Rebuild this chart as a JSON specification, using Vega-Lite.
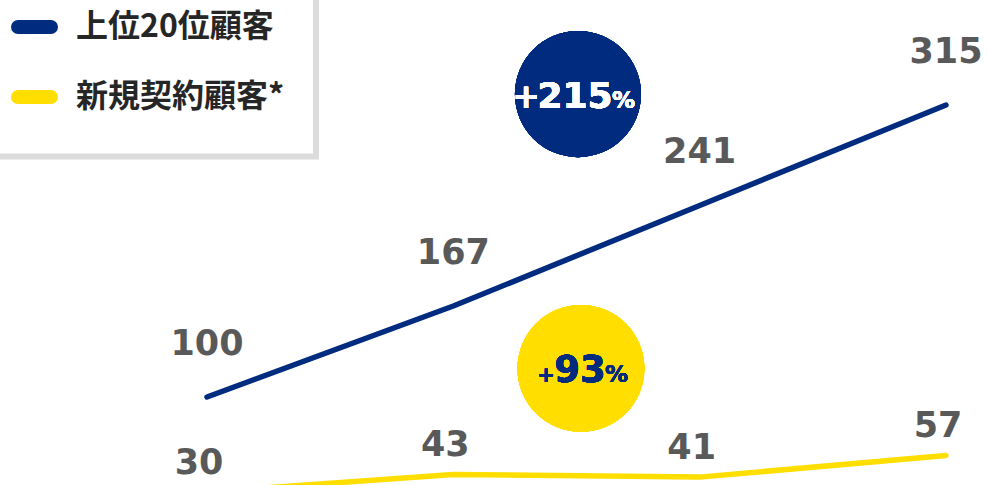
{
  "$schema": "https://vega.github.io/schema/vega-lite/v6.json",
  "width": 987,
  "height": 485,
  "padding": 0,
  "autosize": {"type": "fit", "contains": "padding"},
  "background": "white",
  "config": {"view": {"stroke": null}},
  "data": {
    "values": [
      {"idx": 1, "series": "上位20位顧客", "value": 100},
      {"idx": 2, "series": "上位20位顧客", "value": 167},
      {"idx": 3, "series": "上位20位顧客", "value": 241},
      {"idx": 4, "series": "上位20位顧客", "value": 315},
      {"idx": 1, "series": "新規契約顧客*", "value": 30},
      {"idx": 2, "series": "新規契約顧客*", "value": 43},
      {"idx": 3, "series": "新規契約顧客*", "value": 41},
      {"idx": 4, "series": "新規契約顧客*", "value": 57}
    ]
  },
  "layer": [
    {
      "mark": {"type": "point", "filled": true, "opacity": 1, "color": "#002b7f", "size": 15900, "strokeWidth": 0},
      "encoding": {
        "x": {"datum": 2.506, "type": "quantitative", "scale": {"domain": [0.1597, 4.1665], "nice": false, "zero": false}, "axis": null},
        "y": {"datum": 323, "type": "quantitative", "scale": {"domain": [35.2, 392.3], "nice": false, "zero": false}, "axis": null}
      }
    },
    {
      "mark": {"type": "point", "filled": true, "opacity": 1, "color": "#ffde00", "size": 16100, "strokeWidth": 0},
      "encoding": {
        "x": {"datum": 2.518, "type": "quantitative"},
        "y": {"datum": 121, "type": "quantitative"}
      }
    },
    {
      "mark": {"type": "text", "font": "DejaVu Sans", "fontWeight": "bold", "fontSize": 33, "color": "white", "align": "right", "baseline": "alphabetic", "dx": -38, "dy": 14},
      "encoding": {"x": {"datum": 2.506, "type": "quantitative"}, "y": {"datum": 323, "type": "quantitative"}, "text": {"value": "+"}}
    },
    {
      "mark": {"type": "text", "font": "DejaVu Sans", "fontWeight": "bold", "fontSize": 36, "color": "white", "align": "center", "baseline": "alphabetic", "dx": -3, "dy": 14},
      "encoding": {"x": {"datum": 2.506, "type": "quantitative"}, "y": {"datum": 323, "type": "quantitative"}, "text": {"value": "215"}}
    },
    {
      "mark": {"type": "text", "font": "DejaVu Sans", "fontWeight": "bold", "fontSize": 23, "color": "white", "align": "left", "baseline": "alphabetic", "dx": 34, "dy": 14},
      "encoding": {"x": {"datum": 2.506, "type": "quantitative"}, "y": {"datum": 323, "type": "quantitative"}, "text": {"value": "%"}}
    },
    {
      "mark": {"type": "text", "font": "DejaVu Sans", "fontWeight": "bold", "fontSize": 21, "color": "#002b7f", "align": "right", "baseline": "alphabetic", "dx": -26, "dy": 14},
      "encoding": {"x": {"datum": 2.518, "type": "quantitative"}, "y": {"datum": 121, "type": "quantitative"}, "text": {"value": "+"}}
    },
    {
      "mark": {"type": "text", "font": "DejaVu Sans", "fontWeight": "bold", "fontSize": 37, "color": "#002b7f", "align": "center", "baseline": "alphabetic", "dx": -1, "dy": 14},
      "encoding": {"x": {"datum": 2.518, "type": "quantitative"}, "y": {"datum": 121, "type": "quantitative"}, "text": {"value": "93"}}
    },
    {
      "mark": {"type": "text", "font": "DejaVu Sans", "fontWeight": "bold", "fontSize": 23, "color": "#002b7f", "align": "left", "baseline": "alphabetic", "dx": 24, "dy": 14},
      "encoding": {"x": {"datum": 2.518, "type": "quantitative"}, "y": {"datum": 121, "type": "quantitative"}, "text": {"value": "%"}}
    },
    {
      "mark": {"type": "line", "strokeWidth": 5.5, "strokeCap": "round", "strokeJoin": "round", "clip": true},
      "encoding": {
        "x": {"field": "idx", "type": "quantitative"},
        "y": {"field": "value", "type": "quantitative"},
        "color": {
          "field": "series",
          "type": "nominal",
          "scale": {"domain": ["上位20位顧客", "新規契約顧客*"], "range": ["#002b7f", "#ffde00"]},
          "legend": {
            "title": null,
            "orient": "none",
            "legendX": -20,
            "legendY": -27.5,
            "direction": "vertical",
            "padding": 31,
            "fillColor": "white",
            "strokeColor": "#dcdcdc",
            "symbolType": "stroke",
            "symbolStrokeWidth": 14,
            "symbolSize": 1089,
            "labelFont": "Noto Sans CJK JP",
            "labelFontWeight": "bold",
            "labelFontSize": 32,
            "labelColor": "#262626",
            "labelBaseline": "middle",
            "labelOffset": 18,
            "labelLimit": 400,
            "rowPadding": 13,
            "encode": {
              "symbols": {"update": {"strokeCap": {"value": "round"}}},
              "legend": {"update": {"strokeWidth": {"value": 6}}}
            }
          }
        }
      }
    },
    {
      "transform": [{"filter": "datum.series === '上位20位顧客'"}],
      "mark": {"type": "text", "font": "DejaVu Sans", "fontWeight": "bold", "fontSize": 35, "color": "#595959", "align": "center", "baseline": "alphabetic", "dy": -42},
      "encoding": {
        "x": {"field": "idx", "type": "quantitative"},
        "y": {"field": "value", "type": "quantitative"},
        "text": {"field": "value", "type": "quantitative"}
      }
    },
    {
      "transform": [{"filter": "datum.series === '新規契約顧客*'"}],
      "mark": {"type": "text", "font": "DejaVu Sans", "fontWeight": "bold", "fontSize": 35, "color": "#595959", "align": "center", "baseline": "alphabetic", "dy": -18, "dx": -8},
      "encoding": {
        "x": {"field": "idx", "type": "quantitative"},
        "y": {"field": "value", "type": "quantitative"},
        "text": {"field": "value", "type": "quantitative"}
      }
    }
  ]
}
